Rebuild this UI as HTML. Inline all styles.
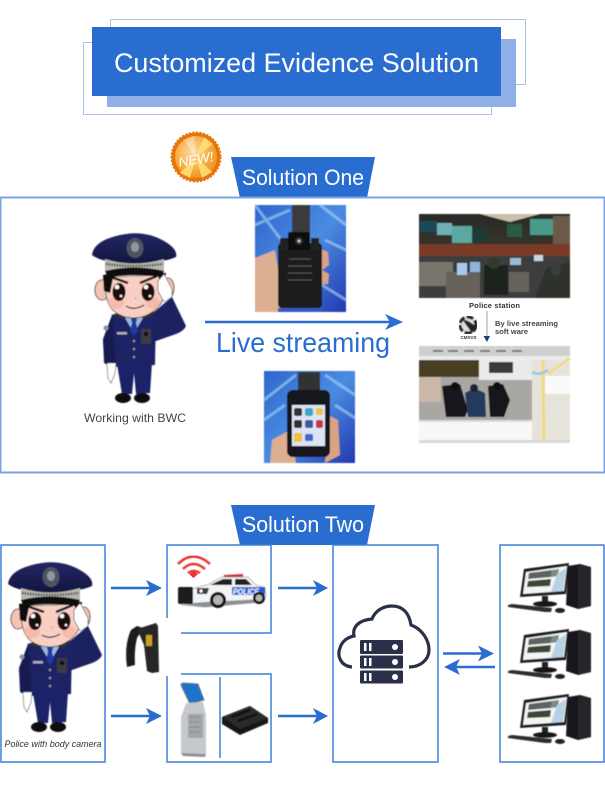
<!DOCTYPE html>
<html><head><meta charset="utf-8"><style>
html,body{margin:0;padding:0;background:#fff}
svg{display:block}
text{font-family:"Liberation Sans",sans-serif}
</style></head><body>
<svg xmlns="http://www.w3.org/2000/svg" width="605" height="800" viewBox="0 0 605 800">
<defs>
<filter id="b" x="-5%" y="-5%" width="110%" height="110%"><feGaussianBlur stdDeviation="0.45"/></filter>
<filter id="b2" x="-5%" y="-5%" width="110%" height="110%"><feGaussianBlur stdDeviation="0.9"/></filter>
<linearGradient id="blueBg" x1="0" y1="0" x2="1" y2="1"><stop offset="0" stop-color="#2f66cc"/><stop offset=".5" stop-color="#4a8ce2"/><stop offset="1" stop-color="#2238b0"/></linearGradient>
<radialGradient id="badge" cx=".42" cy=".38" r=".7"><stop offset="0" stop-color="#fbdca8"/><stop offset=".55" stop-color="#f7b049"/><stop offset="1" stop-color="#ef8a14"/></radialGradient>
<linearGradient id="wall" x1="0" y1="0" x2="0" y2="1"><stop offset="0" stop-color="#2a2a26"/><stop offset="1" stop-color="#4a4238"/></linearGradient>
<linearGradient id="cap" x1="0" y1="0" x2="0" y2="1"><stop offset="0" stop-color="#232664"/><stop offset="1" stop-color="#14163f"/></linearGradient>

<g id="officer" filter="url(#b)">
  <!-- ears -->
  <ellipse cx="18" cy="619" rx="7" ry="10" fill="#f6c4b4" stroke="#222" stroke-width=".8"/>
  <ellipse cx="84" cy="617" rx="6" ry="10" fill="#f6c4b4" stroke="#222" stroke-width=".8"/>
  <!-- arm -->
  <path d="M64 646 L76 636 L88 626 L102 655 Q100 660 92 663 L72 670 L66 672 Z" fill="#1d2260"/>
  <!-- body -->
  <path d="M28 644 L72 642 L71 694 L28 696 L20 692 L19 668 Z" fill="#1e2364"/>
  <path d="M19 670 L28 645 L32 694 L21 692 Z" fill="#171b50"/>
  <path d="M27 644 L41 640 L49 649 L36 647 Z M73 641 L60 640 L52 649 L64 647 Z" fill="#2e3038"/>
  <!-- legs -->
  <path d="M33 693 L68 692 L66 722 L52 723 L50 702 L48 723 L38 723 Z" fill="#1c2468"/>
  <ellipse cx="39" cy="727" rx="8" ry="5" fill="#0b0b0b"/>
  <ellipse cx="58" cy="727" rx="8" ry="5" fill="#0b0b0b"/>
  <!-- glove -->
  <path d="M23 692 L32 692 L31 702 L27 712 L24 707 Z" fill="#fff" stroke="#444" stroke-width=".6"/>
  <!-- collar, tie -->
  <path d="M41 647 L50 662 L59 647 L50 642 Z" fill="#9db6e0"/>
  <path d="M47 647 L53 647 L52 652 L54 660 L50 665 L46 660 L48 652 Z" fill="#1e3a9a"/>
  <!-- details -->
  <rect x="33" y="661" width="10" height="2.500" fill="#aab"/>
  <rect x="57" y="658" width="10" height="15" rx="1" fill="#3c3a40"/>
  <circle cx="62" cy="663" r="2.200" fill="#111"/>
  <circle cx="50" cy="670" r="1.200" fill="#99a"/><circle cx="50" cy="678" r="1.200" fill="#99a"/><circle cx="50" cy="686" r="1.200" fill="#99a"/>
  <circle cx="22" cy="657" r="2.500" fill="#8892b0"/>
  <!-- face -->
  <path d="M21 606 L80 604 Q82 625 76 634 Q65 647 49 647 Q32 646 25 634 Q20 622 21 606 Z" fill="#f9cfc3" stroke="#222" stroke-width=".7"/>
  <ellipse cx="32" cy="632" rx="8" ry="6" fill="#f6b0a2" opacity=".7"/>
  <ellipse cx="69" cy="632" rx="7" ry="6" fill="#f6b0a2" opacity=".7"/>
  <path d="M20 620 L19 604 L30 602 L26 622 Z M72 602 L82 602 L80 614 L76 609 Z" fill="#0d0d0d"/>
  <ellipse cx="35" cy="621" rx="6.500" ry="9" fill="#1a0f0a"/><circle cx="33" cy="616" r="2.300" fill="#fff"/><circle cx="37" cy="625" r="1.300" fill="#fff"/>
  <ellipse cx="64" cy="621" rx="6.500" ry="9" fill="#1a0f0a"/><circle cx="62" cy="616" r="2.300" fill="#fff"/><circle cx="66" cy="625" r="1.300" fill="#fff"/>
  <path d="M27 606 L44 612" stroke="#111" stroke-width="2.400"/><path d="M73 605 L56 612" stroke="#111" stroke-width="2.400"/>
  <path d="M51 627 l1 1" stroke="#b55" stroke-width="1"/>
  <path d="M42 635 Q50 640 60 634" fill="none" stroke="#222" stroke-width="1.300"/>
  <!-- hand -->
  <path d="M74 610 L80 603 L88 618 L88 626 L80 631 L74 620 Z" fill="#fff" stroke="#333" stroke-width=".6"/>
  <!-- cap -->
  <path d="M8 584 Q10 568 42 563 Q62 560 80 570 Q94 578 92 586 Q82 591 50 593 Q18 592 8 584 Z" fill="url(#cap)"/>
  <path d="M21 588 Q50 597 80 588 L80 601 Q50 594 21 601 Z" fill="#b8b8b0"/>
  <path d="M22 593 Q50 597 79 593" stroke="#444" stroke-width="2.400" stroke-dasharray="1.500 1.200" fill="none"/>
  <path d="M21 600 Q50 593 80 600 L77 606 Q50 602 24 606 Z" fill="#0a0a0a"/>
  <ellipse cx="51" cy="577" rx="8.500" ry="10" fill="#4d5560"/>
  <ellipse cx="51" cy="576" rx="4" ry="5" fill="#8f98a0"/>
</g>

<g id="pc" filter="url(#b)">
  <path d="M568 566 L580 564 L591 567 L591 606 L578 609 L566 605 Z" fill="#17181a"/>
  <path d="M578 565 L591 567 L591 606 L578 609 Z" fill="#26272a"/>
  <path d="M524 569 L569 563 L566 594 L520 597 Z" fill="#1f1f22"/>
  <path d="M526 572 L567 566 L564 591 L523 594 Z" fill="#f4f4f2"/>
  <path d="M529 573 L552 570 L551 577 L528 579 Z" fill="#5c6460"/>
  <path d="M552 570 L559 569 L558 576 L551 577 Z" fill="#7a8a88"/>
  <path d="M528 581 L551 579 L550 586 L527 587 Z" fill="#3a4636"/>
  <path d="M557 574 L566 568 L563 591 L551 592 Z" fill="#b8d0e4"/>
  <rect x="542" y="596" width="6" height="7" fill="#222"/>
  <ellipse cx="545" cy="604" rx="12" ry="2.800" fill="#141414"/>
  <path d="M508 605 L512 604 L552 608 L551 612 L545 612 L508 607 Z" fill="#2e2e30"/>
  <ellipse cx="560" cy="610.500" rx="5" ry="2.500" fill="#222"/>
</g>
</defs>

<rect width="605" height="800" fill="#fff"/>

<!-- header -->
<rect x="110.500" y="19.500" width="415" height="65" fill="none" stroke="#a9c2e8" stroke-width="1"/>
<rect x="83.500" y="42.500" width="408" height="72" fill="none" stroke="#a9c2e8" stroke-width="1"/>
<rect x="107" y="39" width="409" height="68" fill="#8fb0e6"/>
<rect x="92" y="27" width="409" height="69" fill="#2a6dd0"/>
<text x="114" y="72" font-size="27" fill="#fff" textLength="365" lengthAdjust="spacingAndGlyphs">Customized Evidence Solution</text>

<!-- badge -->
<g>
  <circle cx="196" cy="157" r="24.500" fill="#e8740c" stroke="#e8740c" stroke-width="2" stroke-dasharray="2 1.600"/>
  <circle cx="196" cy="157" r="21" fill="url(#badge)"/>
  <path d="M196 157 L180 173 L190 178 Z M196 157 L202 178 L212 172 Z M196 157 L204 137 L213 144 Z" fill="#ffe27a" opacity=".85"/>
  <path d="M196 157 L184 140 L194 136 Z" fill="#fff" opacity=".35"/>
  <text x="196" y="164" font-size="13.500" fill="#fff" font-style="italic" text-anchor="middle" transform="rotate(-10 196 160)">NEW!</text>
</g>

<!-- Solution One -->
<path d="M231 157 L375 157 L367 198 L240 198 Z" fill="#2a6dd0"/>
<text x="303" y="185" font-size="22" fill="#fff" text-anchor="middle" textLength="122" lengthAdjust="spacingAndGlyphs">Solution One</text>
<rect x="0.500" y="197.500" width="604" height="275" fill="none" stroke="#7aa5e0" stroke-width="2"/>

<use href="#officer" transform="translate(84,-329)"/>
<text x="135" y="422" font-size="12" fill="#444" text-anchor="middle" textLength="102" lengthAdjust="spacingAndGlyphs">Working with BWC</text>

<!-- photo 1 -->
<g filter="url(#b)">
  <rect x="255" y="205" width="91" height="107" fill="url(#blueBg)"/>
  <path d="M255 225 L290 210 M320 205 L346 225 M322 285 L346 300 M325 240 L346 250 M255 205 L285 245" stroke="#a8d4f5" stroke-width="3" opacity=".6"/>
  <rect x="292" y="205" width="18" height="30" fill="#3a3a3a"/>
  <path d="M255 258 L275 250 L285 312 L255 312 Z" fill="#dcae92"/>
  <path d="M318 248 L328 252 L329 265 L322 270 L329 274 L328 284 L318 284 Z" fill="#d9a283"/>
  <rect x="278" y="243" width="44" height="65" rx="4" fill="#1c1c1e"/>
  <rect x="288" y="232" width="22" height="18" rx="2" fill="#111"/>
  <circle cx="299" cy="241" r="4" fill="#333"/><circle cx="299" cy="241" r="1.500" fill="#ccc"/>
  <rect x="280" y="238" width="8" height="12" fill="#222"/><rect x="311" y="238" width="8" height="12" fill="#222"/>
  <path d="M289 259 H311 M288 266 H312 M288 273 H312 M288 280 H312" stroke="#555" stroke-width="1"/>
  <rect x="278" y="308" width="44" height="4" fill="#3558c0"/>
</g>

<!-- arrow -->
<path d="M205 322 H396" stroke="#2a6dd0" stroke-width="2.500"/>
<path d="M385 314 L403 322 L385 330 L390 322 Z" fill="#2a6dd0"/>
<text x="216" y="352" font-size="28" fill="#2a6dd0" textLength="174" lengthAdjust="spacingAndGlyphs">Live streaming</text>

<!-- photo 2 -->
<g filter="url(#b)">
  <rect x="264" y="371" width="91" height="92" fill="url(#blueBg)"/>
  <path d="M264 400 L296 375 M264 420 L285 405 M325 375 L355 395 M335 405 L355 418" stroke="#a8d4f5" stroke-width="3" opacity=".6"/>
  <rect x="298" y="372" width="22" height="20" fill="#333"/>
  <path d="M270 463 L272 440 L290 430 L296 463 Z" fill="#dcae92"/>
  <path d="M328 415 L338 420 L340 455 L325 463 Z" fill="#d9a283"/>
  <rect x="287" y="390" width="43" height="67" rx="6" fill="#18181a"/>
  <rect x="292" y="405" width="33" height="41" fill="#dbe4f4"/>
  <rect x="294" y="408" width="8" height="8" rx="2" fill="#333"/><rect x="305" y="408" width="8" height="8" rx="2" fill="#3aa8c8"/><rect x="316" y="408" width="7" height="7" rx="2" fill="#f0c040"/>
  <rect x="294" y="420" width="8" height="8" rx="2" fill="#333"/><rect x="305" y="420" width="8" height="8" rx="2" fill="#3a5a9a"/><rect x="316" y="420" width="7" height="8" rx="2" fill="#c8304a"/>
  <rect x="294" y="433" width="8" height="9" rx="1" fill="#f0c040"/><rect x="305" y="434" width="8" height="7" rx="1" fill="#3a6ac8"/>
</g>

<!-- station -->
<g filter="url(#b)">
  <rect x="419" y="214" width="151" height="84" fill="url(#wall)"/>
  <path d="M480 214 L540 214 L510 222 Z" fill="#c8c0a8"/>
  <rect x="420" y="221" width="17" height="11" fill="#1f4a5a"/>
  <rect x="437" y="223" width="15" height="12" fill="#6fb0b4"/>
  <rect x="452" y="226" width="20" height="17" fill="#5aa8a0"/>
  <rect x="473" y="228" width="14" height="14" fill="#1e3a36"/>
  <rect x="507" y="224" width="15" height="13" fill="#2a5a40"/>
  <rect x="530" y="219" width="23" height="16" fill="#4a9a8a"/>
  <rect x="553" y="216" width="17" height="30" fill="#6a5a46"/>
  <rect x="419" y="244" width="151" height="12" fill="#7a3a26"/>
  <rect x="419" y="256" width="151" height="42" fill="#3e3e3c"/>
  <rect x="419" y="262" width="34" height="24" fill="#77746c"/>
  <rect x="446" y="272" width="34" height="26" fill="#68625c"/>
  <rect x="509" y="272" width="20" height="20" fill="#66625c"/>
  <rect x="457" y="263" width="10" height="12" fill="#a9c9e8"/><rect x="470" y="262" width="10" height="10" fill="#8fb3d9"/>
  <rect x="510" y="258" width="11" height="7" fill="#9ab9d4"/><rect x="534" y="255" width="9" height="6" fill="#c9d7e0"/>
  <rect x="484" y="265" width="24" height="30" fill="#1e221c"/>
  <ellipse cx="494" cy="263" rx="6" ry="6" fill="#333a2c"/>
  <path d="M535 298 L546 268 L570 262 L570 298 Z" fill="#2e322a"/>
  <ellipse cx="556" cy="270" rx="5" ry="6" fill="#3a3e44"/>
</g>
<text x="494.500" y="308" font-size="7.500" font-weight="bold" fill="#333" text-anchor="middle" textLength="51" lengthAdjust="spacing">Police station</text>

<!-- logo -->
<g filter="url(#b)">
  <circle cx="468" cy="325" r="8" fill="#ddd" stroke="#222" stroke-width="3" stroke-dasharray="7 2"/>
  <path d="M462 319 L472 333 L476 326 L468 321 Z" fill="#222"/>
</g>
<text x="468.500" y="339" font-size="4.500" font-weight="bold" fill="#333" text-anchor="middle">CMSVS</text>
<path d="M487 311 V336" stroke="#9aa0b0" stroke-width="1"/>
<path d="M483.500 336 H490 L487 342 Z" fill="#1e3a8a"/>
<text x="495" y="326" font-size="7.500" font-weight="bold" fill="#444" textLength="63" lengthAdjust="spacing">By live streaming</text>
<text x="495" y="334" font-size="7.500" font-weight="bold" fill="#444" textLength="33" lengthAdjust="spacing">soft ware</text>

<!-- software screenshot -->
<g filter="url(#b)">
  <rect x="419" y="346" width="151" height="97" fill="#f0f0ee"/>
  <rect x="419" y="346" width="151" height="10" fill="#cfcfcd"/>
  <path d="M433 351 h10 M448 351 h10 M464 351 h10 M480 351 h10 M496 351 h10 M512 351 h10" stroke="#777" stroke-width="2"/>
  <rect x="419" y="356" width="151" height="4" fill="#e8ecf0"/>
  <rect x="419" y="360" width="113" height="60" fill="#a9a7a2"/>
  <rect x="419" y="360" width="60" height="17" fill="#4a3c24"/>
  <rect x="479" y="360" width="53" height="20" fill="#eaeaea"/>
  <rect x="489" y="362" width="24" height="11" fill="#3a3a3a"/>
  <rect x="419" y="377" width="22" height="25" fill="#c9b8a8"/>
  <path d="M442 386 L460 384 L468 410 L465 417 H446 Z" fill="#17171b"/>
  <path d="M465 393 L474 388 L485 393 L486 417 H468 Z" fill="#233a5c"/>
  <path d="M488 386 L503 384 L510 400 L504 417 H490 Z" fill="#17171b"/>
  <circle cx="455" cy="386" r="4" fill="#111"/><circle cx="474" cy="388" r="4" fill="#223"/><circle cx="497" cy="386" r="4" fill="#111"/>
  <rect x="532" y="360" width="38" height="83" fill="#e6e4da"/>
  <path d="M543 360 L544 443" stroke="#f2d97e" stroke-width="3"/>
  <path d="M532 372 Q540 376 548 370" stroke="#9cc4e4" stroke-width="2.500" fill="none"/>
  <path d="M548 374 L570 358" stroke="#f2d97e" stroke-width="2.500"/>
  <rect x="545" y="376" width="25" height="18" fill="#fafafa"/>
  <rect x="419" y="420" width="113" height="23" fill="#f8f8f8"/>
  <rect x="419" y="420" width="113" height="2" fill="#ddd"/>
  <rect x="419" y="440" width="151" height="3" fill="#d8d8d8"/>
</g>

<!-- Solution Two -->
<path d="M231 505 L375 505 L367 545 L240 545 Z" fill="#2a6dd0"/>
<text x="303" y="532" font-size="22" fill="#fff" text-anchor="middle" textLength="122" lengthAdjust="spacingAndGlyphs">Solution Two</text>

<!-- boxes -->
<g fill="none" stroke="#3f7fd8" stroke-width="1.500">
  <rect x="1" y="545" width="104" height="217"/>
  <path d="M167 618 V545 H271 V633 H181"/>
  <path d="M181 674 H271 V762 H167 V676"/>
  <path d="M220 677 V758"/>
  <rect x="333" y="545" width="105" height="217"/>
  <rect x="500" y="545" width="104" height="217"/>
</g>

<use href="#officer"/>
<text x="53" y="747" font-size="9" font-style="italic" fill="#333" text-anchor="middle" textLength="97" lengthAdjust="spacingAndGlyphs">Police with body camera</text>

<!-- arrows -->
<g stroke="#2a6dd0" stroke-width="2.500" fill="none">
  <path d="M111 588 H156"/><path d="M111 716 H156"/>
  <path d="M278 588 H323"/><path d="M278 716 H323"/>
  <path d="M443 653.500 H488"/><path d="M495 667 H450"/>
</g>
<g fill="#2a6dd0">
  <path d="M146 580 L162 588 L146 596 L150 588 Z"/>
  <path d="M146 708 L162 716 L146 724 L150 716 Z"/>
  <path d="M313 580 L328 588 L313 596 L317 588 Z"/>
  <path d="M313 708 L328 716 L313 724 L317 716 Z"/>
  <path d="M478 645.500 L494 653.500 L478 661.500 L482 653.500 Z"/>
  <path d="M460 659 L444 667 L460 675 L456 667 Z"/>
</g>

<!-- wifi -->
<g fill="none" stroke="#e8332e" stroke-width="2.500" filter="url(#b)">
  <path d="M178 564 Q193 549 210 564"/>
  <path d="M183 569 Q193 559 205 569"/>
  <path d="M188 573 Q193 569 200 573"/>
</g>
<path d="M189 574 L193.500 571 L198 574 L193.500 578 Z" fill="#e8332e"/>

<!-- car -->
<g filter="url(#b)">
  <path d="M179 592 L207 585 L222 577 L248 577 L256 585 L265 588 L266 596 L262 602 L205 607 L182 605 Z" fill="#f3f4f6" stroke="#9a9ea6" stroke-width=".7"/>
  <path d="M182 604 L205 607 L262 602 L263 599 L205 602 Z" fill="#8c8f94"/>
  <path d="M210 585 L223 579 L232 579 L232 585 Z M235 579 L246 579 L252 585 L235 585 Z" fill="#222"/>
  <path d="M224 575 L243 574 V577 H224 Z" fill="#c33"/>
  <rect x="178" y="587" width="15" height="17" rx="2" fill="#1a1a1a"/>
  <path d="M197 588 H209 L207 594 H197 Z" fill="#3a3a3a"/>
  <circle cx="201" cy="591" r="1.600" fill="#fff"/>
  <path d="M232 587 L265 587 L265 595 L232 595 Z" fill="#2060d0"/>
  <text x="233" y="594.500" font-size="8" font-weight="bold" font-style="italic" fill="#fff" textLength="26" lengthAdjust="spacingAndGlyphs">POLICE</text>
  <circle cx="218" cy="600" r="8" fill="#111"/><circle cx="218" cy="600" r="5" fill="#b5b5b5"/>
  <circle cx="259" cy="598" r="6" fill="#111"/><circle cx="259" cy="598" r="3.500" fill="#b5b5b5"/>
</g>

<!-- BWC device -->
<g filter="url(#b)">
  <path d="M131 630 L137 626 L143 628 L137 638 Q134 650 135 665 L127 667 Q124 645 131 630 Z" fill="#1c1c1c"/>
  <path d="M137 629 L156 623 L158 626 L159 672 L152 673 L147 671 L144 645 Z" fill="#262626"/>
  <rect x="146" y="635" width="6" height="11" fill="#c9a020"/>
</g>

<!-- kiosk -->
<g filter="url(#b)">
  <path d="M181 685 Q181 683 184 683 L198 684 L204 700 L190 704 Z" fill="#1f73c8" stroke="#667" stroke-width=".8"/>
  <path d="M186 703 L203 702 L206 715 L206 754 L181 753 L181 717 Z" fill="#c6c9cc"/>
  <rect x="188" y="714" width="15" height="24" fill="#a4a7aa"/>
  <path d="M190 717 h10 M190 722 h10 M190 727 h10 M190 732 h10" stroke="#6c6f72" stroke-width="1" stroke-dasharray="2 1"/>
  <path d="M181 753 L206 754 L205 757 L183 756 Z" fill="#8d9092"/>
</g>

<!-- dock -->
<g filter="url(#b)">
  <path d="M222 717 L250 706 L268 718 L268 723 L240 735 L222 724 Z" fill="#141414"/>
  <path d="M222 717 L250 706 L268 718 L240 729 Z" fill="#2a2a2a"/>
  <path d="M231 717 L250 710 M238 721 L257 714" stroke="#0a0a0a" stroke-width="2"/>
</g>

<!-- cloud -->
<path d="M352 667 C340 666 337 655 340 648 C342 641 348 637 354 636 C352 626 360 620 372 619 C375 611 383 606 392 606 C402 606 409 612 411 625 C422 629 429 640 429 650 C429 660 420 667 409 667" fill="none" stroke="#2a3048" stroke-width="3.200"/>
<g fill="#2a3048">
  <rect x="360" y="640" width="43" height="14" rx="1"/>
  <rect x="360" y="655.500" width="43" height="13" rx="1"/>
  <rect x="360" y="670.500" width="43" height="13" rx="1"/>
</g>
<g fill="#fff">
  <rect x="364" y="643" width="2.500" height="8"/><rect x="369" y="643" width="2.500" height="8"/><circle cx="395" cy="647" r="3"/>
  <rect x="364" y="658" width="2.500" height="8"/><rect x="369" y="658" width="2.500" height="8"/><circle cx="395" cy="662" r="3"/>
  <rect x="364" y="673" width="2.500" height="8"/><rect x="369" y="673" width="2.500" height="8"/><circle cx="395" cy="677" r="3"/>
</g>

<!-- computers -->
<use href="#pc"/>
<use href="#pc" transform="translate(0,66)"/>
<use href="#pc" transform="translate(0,131)"/>
</svg>
</body></html>
